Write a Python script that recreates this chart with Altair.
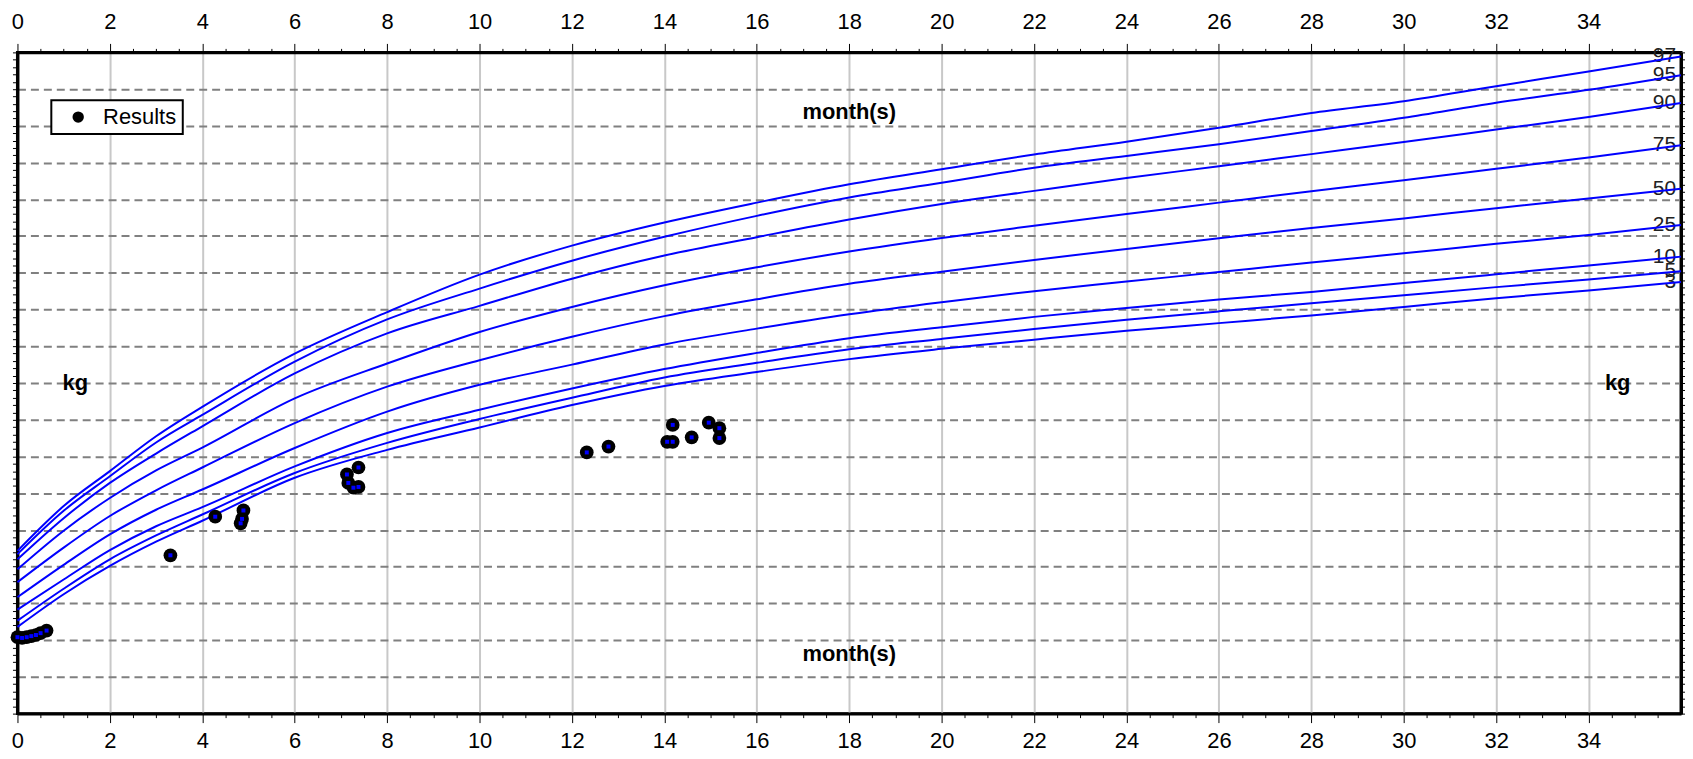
import altair as alt
import pandas as pd

# ---- percentile curves (month -> kg) ----
months = [0, 1, 2, 3, 4, 6, 8, 10, 12, 14, 16, 18, 20, 22, 24, 26, 28, 30, 32, 34, 36]
p97 = [4.43, 5.65, 6.60, 7.55, 8.35, 9.80, 10.93, 11.95, 12.74, 13.37, 13.91, 14.41, 14.82, 15.22, 15.57, 15.95, 16.35, 16.67, 17.08, 17.48, 17.89]
p95 = [4.34, 5.52, 6.46, 7.38, 8.13, 9.58, 10.73, 11.57, 12.33, 12.98, 13.55, 14.05, 14.45, 14.86, 15.18, 15.50, 15.86, 16.22, 16.63, 16.98, 17.38]
p90 = [4.20, 5.32, 6.28, 7.08, 7.82, 9.26, 10.35, 11.10, 11.84, 12.47, 12.97, 13.45, 13.87, 14.23, 14.58, 14.90, 15.23, 15.56, 15.90, 16.24, 16.62]
p75 = [3.93, 4.98, 5.87, 6.62, 7.24, 8.58, 9.53, 10.39, 11.07, 11.66, 12.15, 12.58, 12.95, 13.28, 13.60, 13.91, 14.22, 14.52, 14.83, 15.14, 15.47]
p50 = [3.58, 4.52, 5.38, 6.08, 6.70, 7.91, 8.90, 9.62, 10.26, 10.82, 11.28, 11.70, 12.03, 12.35, 12.65, 12.94, 13.22, 13.48, 13.76, 14.02, 14.29]
p25 = [3.17, 4.05, 4.88, 5.55, 6.10, 7.23, 8.22, 8.95, 9.50, 10.05, 10.48, 10.87, 11.20, 11.50, 11.76, 12.02, 12.28, 12.53, 12.79, 13.03, 13.30]
p10 = [2.83, 3.65, 4.45, 5.10, 5.62, 6.73, 7.64, 8.27, 8.85, 9.38, 9.82, 10.22, 10.52, 10.80, 11.04, 11.27, 11.48, 11.72, 11.96, 12.20, 12.44]
p5 = [2.53, 3.40, 4.20, 4.85, 5.42, 6.55, 7.37, 8.02, 8.60, 9.15, 9.55, 9.92, 10.20, 10.47, 10.72, 10.95, 11.17, 11.39, 11.61, 11.82, 12.04]
p3 = [2.36, 3.25, 4.02, 4.68, 5.25, 6.42, 7.18, 7.79, 8.40, 8.92, 9.30, 9.65, 9.93, 10.18, 10.42, 10.63, 10.84, 11.07, 11.31, 11.52, 11.75]
percentile_names = ["97", "95", "90", "75", "50", "25", "10", "5", "3"]
curves = [p97, p95, p90, p75, p50, p25, p10, p5, p3]

# ---- measured results ----
result_month = [0.0, 0.1, 0.2, 0.3, 0.4, 0.5, 0.63, 3.31, 4.28, 4.83, 4.86, 4.89,
                7.13, 7.16, 7.27, 7.38, 7.38, 12.32, 12.79, 14.06, 14.18, 14.18,
                14.59, 14.96, 15.19, 15.19]
result_kg = [2.08, 2.06, 2.08, 2.11, 2.14, 2.19, 2.26, 4.31, 5.36, 5.18, 5.30, 5.53,
             6.51, 6.28, 6.15, 6.70, 6.17, 7.11, 7.27, 7.40, 7.40, 7.86,
             7.52, 7.92, 7.77, 7.50]

# ---- axis tick values ----
x_ticks = [i * 0.5 for i in range(72)]
y_ticks = [round(i * 0.2, 1) for i in range(91)]

FONT = "Liberation Sans"

curve_rows = []
for name, vals in zip(percentile_names, curves):
    for m, v in zip(months, vals):
        curve_rows.append({"percentile": name, "month": m, "kg": v})
curve_df = pd.DataFrame(curve_rows)
end_df = pd.DataFrame({"percentile": percentile_names,
                       "month": [months[-1]] * len(curves),
                       "kg": [c[-1] for c in curves]})
res_df = pd.DataFrame({"month": result_month, "kg": result_kg,
                       "series": ["Results"] * len(result_month)})
ann_df = pd.DataFrame({"label": ["month(s)", "month(s)", "kg", "kg"],
                       "month": [18, 18, 1.25, 34.63],
                       "kg": [16.37, 1.62, 9.0, 9.0]})

xs = alt.Scale(domain=[0, 36], nice=False, zero=False)
ys = alt.Scale(domain=[0, 18], nice=False, zero=False)

even_test = "datum.value % 2 === 0"
int_test = "abs(datum.value - round(datum.value)) < 0.01"


def x_axis(orient, grid, pad):
    return alt.Axis(
        orient=orient, values=x_ticks, title=None,
        domain=True, domainColor="black", domainWidth=3,
        labelExpr="datum.value % 2 === 0 ? format(datum.value, 'd') : ''",
        labelFont=FONT, labelFontSize=22, labelColor="black",
        labelPadding=pad, labelOverlap=False, labelFlush=False, labelBound=False,
        tickColor="black", tickWidth=1,
        tickSize={"condition": {"test": even_test, "value": 9}, "value": 4},
        grid=grid, gridColor="#c8c8c8", gridWidth=2,
        gridOpacity={"condition": {"test": even_test, "value": 1}, "value": 0},
    )


def y_axis(orient, grid):
    return alt.Axis(
        orient=orient, values=y_ticks, title=None, labels=False,
        domain=True, domainColor="black", domainWidth=3,
        tickColor="black", tickWidth=1, tickSize=5,
        grid=grid, gridColor="#808080", gridWidth=2, gridDash=[8, 5],
        gridOpacity={"condition": {"test": int_test, "value": 1}, "value": 0},
    )


labels = alt.Chart(end_df).mark_text(
    align="right", baseline="middle", dx=-5, font=FONT, fontSize=21, color="#222222"
).encode(
    x=alt.X("month:Q", scale=xs, axis=None),
    y=alt.Y("kg:Q", scale=ys, axis=None),
    text="percentile:N",
)

lines = alt.Chart(curve_df).mark_line(
    color="#0000ff", strokeWidth=2, interpolate="monotone"
).encode(
    x=alt.X("month:Q", scale=xs, axis=x_axis("bottom", True, 8)),
    y=alt.Y("kg:Q", scale=ys, axis=y_axis("left", True)),
    detail="percentile:N",
)

points = alt.Chart(res_df).mark_circle(size=190, opacity=1).encode(
    x=alt.X("month:Q", scale=xs, axis=x_axis("top", False, 10)),
    y=alt.Y("kg:Q", scale=ys, axis=y_axis("right", False)),
    color=alt.Color("series:N", scale=alt.Scale(domain=["Results"], range=["black"]),
                    legend=alt.Legend(title=None, orient="none", legendX=34, legendY=48,
                                      symbolType="circle", symbolSize=130,
                                      symbolOffset=10, labelOffset=14,
                                      labelFont=FONT, labelFontSize=22, labelColor="black",
                                      padding=6, strokeColor="black", fillColor="white")),
)

centers = alt.Chart(res_df).mark_square(size=16, color="#0000ff", opacity=1).encode(
    x=alt.X("month:Q", scale=xs, axis=None),
    y=alt.Y("kg:Q", scale=ys, axis=None),
)

ann = alt.Chart(ann_df).mark_text(
    font=FONT, fontSize=22, fontWeight="bold", color="black",
    align="center", baseline="middle"
).encode(
    x=alt.X("month:Q", scale=xs, axis=None),
    y=alt.Y("kg:Q", scale=ys, axis=None),
    text="label:N",
)

chart = alt.layer(labels, lines, points, centers, ann).resolve_axis(
    x="independent", y="independent"
).properties(
    width=1670.5, height=664,
    autosize=alt.AutoSizeParams(type="none"),
    padding={"left": 9.5, "top": 43, "right": 4, "bottom": 43},
    background="white",
).configure_view(
    stroke="black", strokeWidth=3
).configure_legend(
    strokeWidth=2
)

chart.save("out.html", embed_options={"renderer": "svg", "actions": False})
